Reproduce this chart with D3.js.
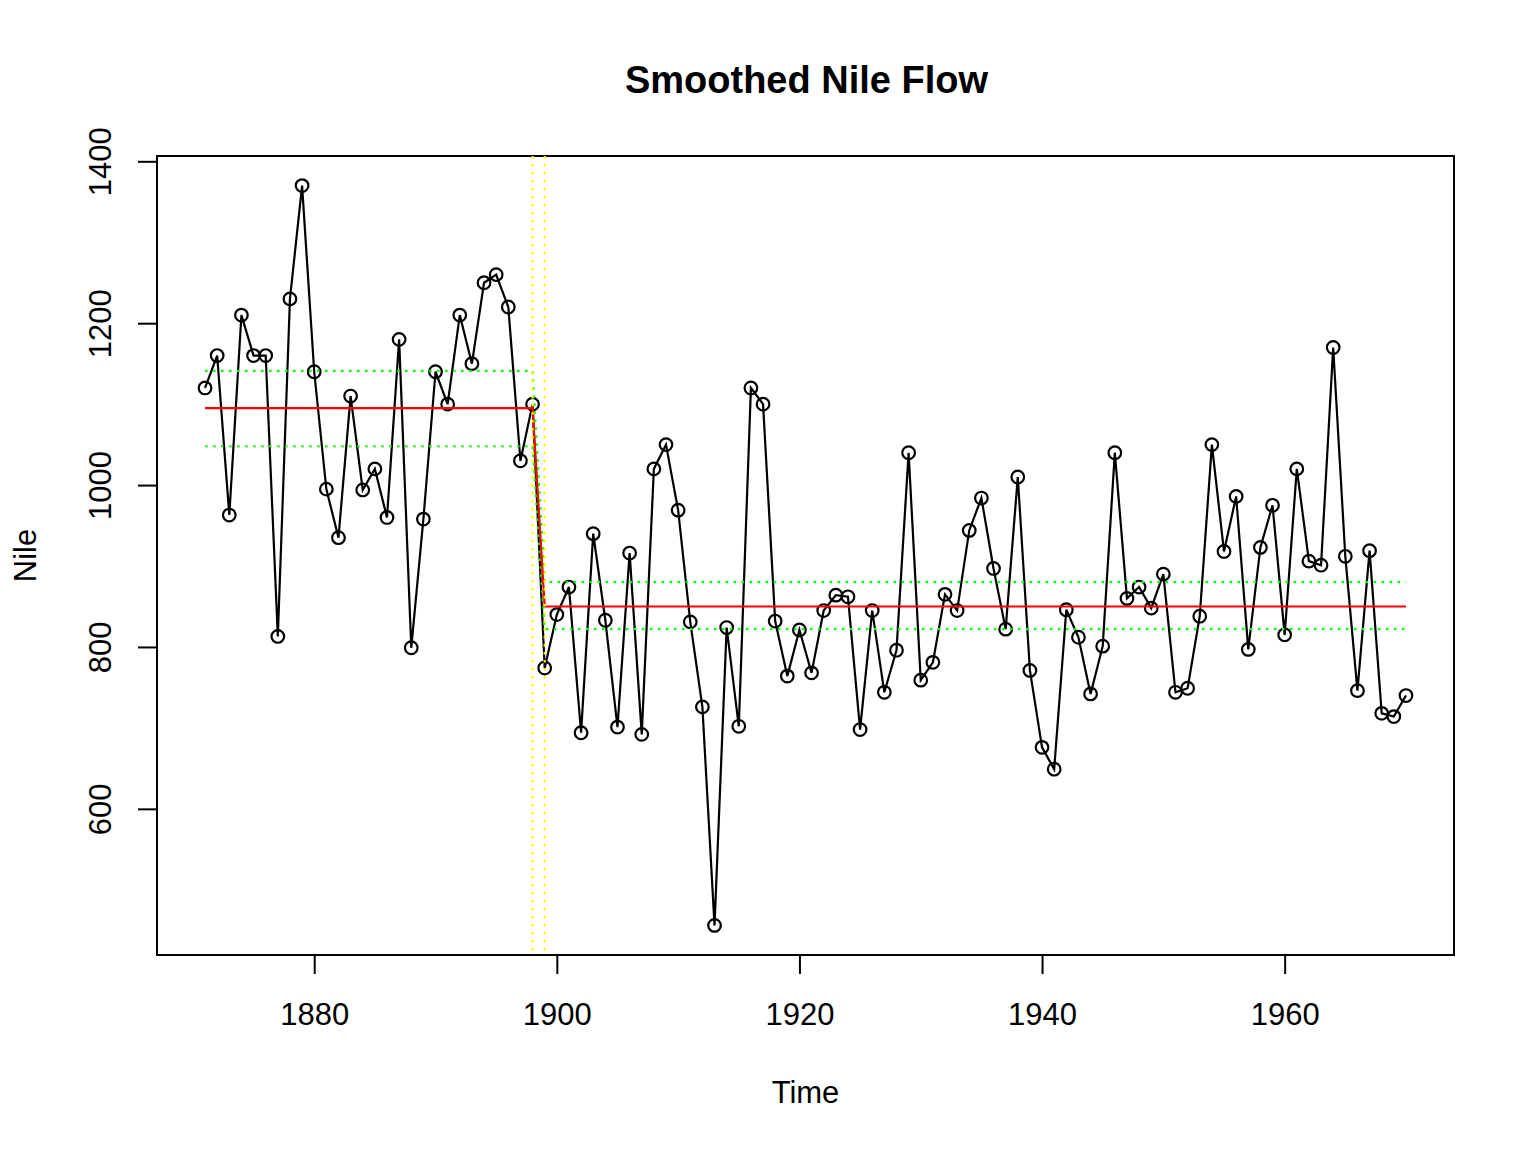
<!DOCTYPE html>
<html><head><meta charset="utf-8">
<script src="https://cdn.jsdelivr.net/npm/d3@7"></script>
<style>body{margin:0;background:#fff}svg{display:block}text{font-family:"Liberation Sans",Arial,sans-serif}</style>
</head><body><svg id="c" width="1536" height="1152"></svg>
<script>
const years = d3.range(1871, 1971);
const nile = [1120,1160,963,1210,1160,1160,813,1230,1370,1140,995,935,1110,994,1020,960,1180,799,958,1140,1100,1210,1150,1250,1260,1220,1030,1100,774,840,874,694,940,833,701,916,692,1020,1050,969,831,726,456,824,702,1120,1100,832,764,821,768,845,864,862,698,845,744,796,1040,759,781,865,845,944,984,897,822,1010,771,676,649,846,812,742,801,1040,860,874,848,890,744,749,838,1050,918,986,797,923,975,815,1020,906,901,1170,912,746,919,718,714,740];
const breakYears = [1898, 1899];
const segYears = [1871, 1898, 1899, 1970];
const fitted = [1095, 1095, 850, 850];
const upper = [1141, 1141, 880, 880];
const lower = [1048, 1048, 822, 822];
const xTicks = [1880, 1900, 1920, 1940, 1960];
const yTicks = [600, 800, 1000, 1200, 1400];

const svg = d3.select("#c");
const L = 157, R = 1454, T = 156, B = 955;
const xr = [1871 - 0.04*99, 1970 + 0.04*99];
const ymin = 456, ymax = 1370, yr = ymax - ymin;
const x = d3.scaleLinear().domain(xr).range([L, R]);
const y = d3.scaleLinear().domain([ymin - 0.04*yr, ymax + 0.04*yr]).range([B, T]);

const fs = 31;
svg.append("text").attr("x", (L+R)/2 + 1).attr("y", 80).attr("dy", "0.35em")
  .attr("text-anchor", "middle").attr("font-weight", "bold").attr("font-size", 38).text("Smoothed Nile Flow");

const xa = svg.append("g").attr("transform", `translate(0,${B})`)
  .call(d3.axisBottom(x).tickValues(xTicks).tickSize(19).tickPadding(29).tickFormat(d3.format("d")));
const ya = svg.append("g").attr("transform", `translate(${L},0)`)
  .call(d3.axisLeft(y).tickValues(yTicks).tickSize(19).tickFormat(d3.format("d")));
[xa, ya].forEach(a => {
  a.select(".domain").remove();
  a.selectAll("line").attr("stroke", "#000").attr("stroke-width", 2);
  a.selectAll("text").attr("font-size", fs).attr("fill", "#000");
});
svg.append("line").attr("x1", x(1880)).attr("x2", x(1960)).attr("y1", B).attr("y2", B).attr("stroke","#000").attr("stroke-width",2);
svg.append("line").attr("y1", y(600)).attr("y2", y(1400)).attr("x1", L).attr("x2", L).attr("stroke","#000").attr("stroke-width",2);
ya.selectAll("text").attr("text-anchor", "middle")
  .attr("transform", `translate(-57,0) rotate(-90)`).attr("x", 0).attr("y", 0).attr("dy", "0.35em");
xa.selectAll("text").attr("dy", "0.71em");

svg.append("rect").attr("x", L).attr("y", T).attr("width", R-L).attr("height", B-T)
  .attr("fill", "none").attr("stroke", "#000").attr("stroke-width", 2);

svg.append("text").attr("x", (L+R)/2).attr("y", 1092).attr("dy", "0.35em").attr("text-anchor","middle").attr("font-size", fs).text("Time");
svg.append("text").attr("transform", `translate(25,${(T+B)/2}) rotate(-90)`).attr("dy", "0.35em").attr("text-anchor","middle").attr("font-size", fs).text("Nile");

const data = years.map((yy, i) => [yy, nile[i]]);
const line = d3.line().x(d => x(d[0])).y(d => y(d[1]));
svg.append("path").datum(data).attr("d", line).attr("fill", "none").attr("stroke", "#000").attr("stroke-width", 2.2);
svg.append("g").selectAll("circle").data(data).join("circle")
  .attr("cx", d => x(d[0])).attr("cy", d => y(d[1])).attr("r", 6.3)
  .attr("fill", "none").attr("stroke", "#000").attr("stroke-width", 2.2);

const seg = arr => segYears.map((yy, i) => [yy, arr[i]]);
svg.append("path").datum(seg(upper)).attr("d", line).attr("fill","none").attr("stroke","#00ff00").attr("stroke-width",2.2).attr("stroke-dasharray","2.5,5.5");
svg.append("path").datum(seg(lower)).attr("d", line).attr("fill","none").attr("stroke","#00ff00").attr("stroke-width",2.2).attr("stroke-dasharray","2.5,5.5");
svg.append("path").datum(seg(fitted)).attr("d", line).attr("fill","none").attr("stroke","#ff0000").attr("stroke-width",2.2);

svg.append("g").selectAll("line").data(breakYears).join("line")
  .attr("x1", d => x(d)).attr("x2", d => x(d)).attr("y1", T).attr("y2", B)
  .attr("stroke", "#ffff00").attr("stroke-width", 2.2).attr("stroke-dasharray", "2.5,5.5");
</script></body></html>
